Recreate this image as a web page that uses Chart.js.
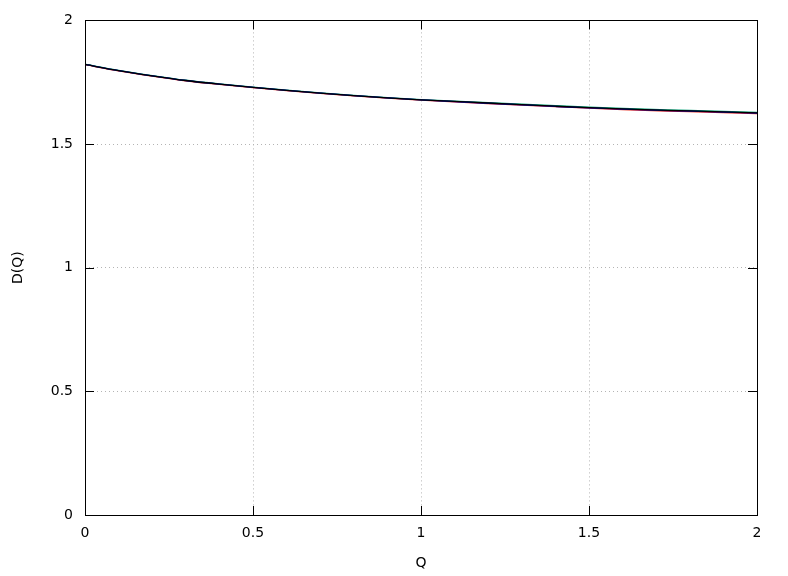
<!DOCTYPE html>
<html>
<head>
<meta charset="utf-8">
<script src="https://cdn.jsdelivr.net/npm/chart.js@4/dist/chart.umd.min.js"></script>
<style>
  html, body { margin: 0; padding: 0; background: #fff; }
  #wrap { width: 788px; height: 576px; }
</style>
</head>
<body>
<div id="wrap"><canvas id="plot" width="788" height="576"></canvas></div>
<script>
const qValues = [0, 0.1, 0.2, 0.3, 0.4, 0.5, 0.6, 0.7, 0.8, 0.9, 1.0, 1.2, 1.4, 1.5, 1.6, 1.8, 2.0];
const dBlack = [1.822, 1.797, 1.776, 1.757, 1.742, 1.729, 1.717, 1.706, 1.696, 1.687, 1.679, 1.666, 1.653, 1.647, 1.642, 1.634, 1.626];
const dBlue  = [1.822, 1.797, 1.776, 1.757, 1.742, 1.729, 1.717, 1.706, 1.696, 1.687, 1.679, 1.665, 1.652, 1.646, 1.641, 1.633, 1.625];
const dGreen = [1.823, 1.798, 1.777, 1.758, 1.743, 1.730, 1.718, 1.707, 1.697, 1.688, 1.680, 1.667, 1.655, 1.649, 1.644, 1.636, 1.628];
const dRed   = [1.821, 1.796, 1.775, 1.756, 1.741, 1.728, 1.716, 1.705, 1.695, 1.686, 1.678, 1.664, 1.651, 1.645, 1.639, 1.631, 1.623];
const xTicks = [0, 0.5, 1, 1.5, 2];
const yTicks = [0, 0.5, 1, 1.5, 2];

function pts(ys) {
    return qValues.map((q, i) => ({x: q, y: ys[i]}));
}

function series(ys, color) {
    return {
        data: pts(ys),
        borderColor: color,
        borderWidth: 1.3,
        pointRadius: 0,
        cubicInterpolationMode: 'monotone',
        fill: false
    };
}

// gnuplot style: ticks pointing inward on all four sides, plus a box border
const innerTicks = {
    id: 'innerTicks',
    afterDatasetsDraw(chart) {
        const {ctx, chartArea: a, scales} = chart;
        const len = 9;
        ctx.save();
        ctx.strokeStyle = '#000';
        ctx.lineWidth = 1;
        ctx.beginPath();
        xTicks.forEach(v => {
            const px = Math.round(scales.x.getPixelForValue(v)) + 0.5;
            ctx.moveTo(px, a.bottom); ctx.lineTo(px, a.bottom - len);
            ctx.moveTo(px, a.top); ctx.lineTo(px, a.top + len);
        });
        yTicks.forEach(v => {
            const py = Math.round(scales.y.getPixelForValue(v)) + 0.5;
            ctx.moveTo(a.left, py); ctx.lineTo(a.left + len, py);
            ctx.moveTo(a.right, py); ctx.lineTo(a.right - len, py);
        });
        ctx.stroke();
        ctx.strokeRect(Math.round(a.left) + 0.5, Math.round(a.top) + 0.5,
                       Math.round(a.right - a.left), Math.round(a.bottom - a.top));
        ctx.restore();
    }
};

window.addEventListener("DOMContentLoaded", () => {
    Chart.defaults.font.family = "'DejaVu Sans', sans-serif";
    Chart.defaults.font.size = 14;
    Chart.defaults.color = '#000';

    const ctx = document.getElementById('plot');
    const config = {
        type: 'line',
        data: {
            datasets: [
                series(dBlack, '#000000'),
                series(dBlue, '#0000c0'),
                series(dGreen, '#009e73'),
                series(dRed, '#e51e10')
            ]
        },
        options: {
            responsive: false,
            animation: false,
            layout: {padding: {top: 18, right: 31, left: 0, bottom: 0}},
            plugins: {
                legend: {display: false},
                tooltip: {enabled: false}
            },
            scales: {
                x: {
                    type: 'linear',
                    min: 0,
                    max: 2,
                    afterBuildTicks: s => { s.ticks = xTicks.map(v => ({value: v})); },
                    afterFit: s => { s.height = 61; },
                    border: {display: false, dash: [1, 3]},
                    grid: {
                        color: '#b4b4b4',
                        drawTicks: false
                    },
                    ticks: {padding: 10, maxRotation: 0, callback: v => String(v)},
                    title: {display: true, text: 'Q', padding: {top: 6, bottom: 4}}
                },
                y: {
                    type: 'linear',
                    min: 0,
                    max: 2,
                    afterBuildTicks: s => { s.ticks = yTicks.map(v => ({value: v})); },
                    afterFit: s => { s.width = 85; },
                    border: {display: false, dash: [1, 3]},
                    grid: {
                        color: '#b4b4b4',
                        drawTicks: false
                    },
                    ticks: {padding: 12, callback: v => String(v)},
                    title: {display: true, text: 'D(Q)', padding: {top: 10, bottom: 4}}
                }
            }
        },
        plugins: [innerTicks]
    };

    new Chart(ctx, config);
});
</script>
</body>
</html>
